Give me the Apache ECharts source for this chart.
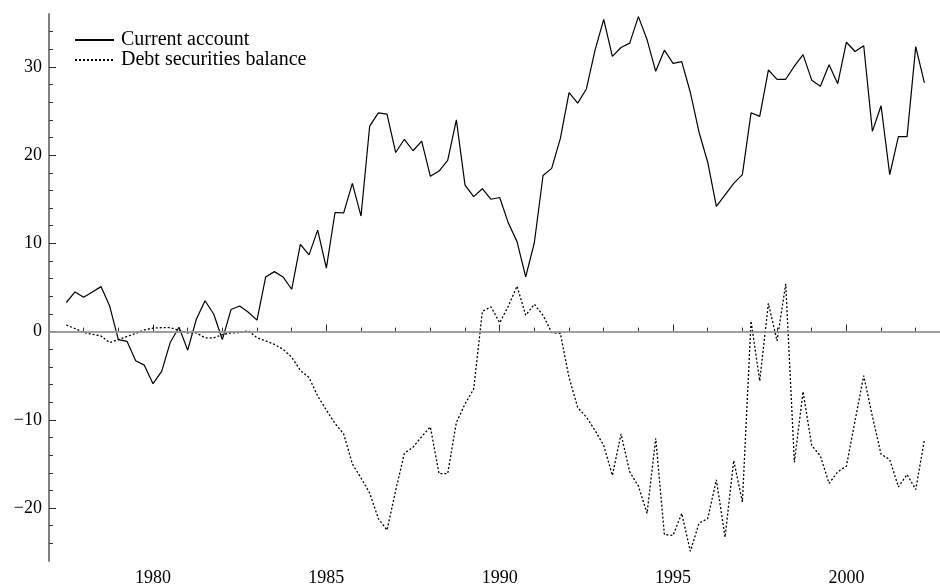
<!DOCTYPE html>
<html>
<head>
<meta charset="utf-8">
<script src="https://cdn.jsdelivr.net/npm/echarts@6/dist/echarts.min.js"></script>
<style>
  html, body { margin: 0; padding: 0; background: #fff; }
  #chart { width: 940px; height: 587px; }
</style>
</head>
<body>
<div id="chart"></div>
<script>
// quarterly data, first quarter plotted at 1977.5
const startYear = 1977.5;

const currentAccount = [
  3.3, 4.5, 3.9, 4.5, 5.1, 2.9, -0.9, -1.1, -3.3, -3.8,
  -5.9, -4.5, -1.2, 0.5, -2.1, 1.4, 3.5, 2.0, -0.9, 2.5,
  2.9, 2.2, 1.3, 6.2, 6.8, 6.2, 4.8, 9.9, 8.7, 11.5,
  7.2, 13.5, 13.45, 16.8, 13.1, 23.3, 24.8, 24.65, 20.3, 21.8,
  20.5, 21.6, 17.6, 18.2, 19.4, 24.0, 16.6, 15.3, 16.2, 15.0,
  15.2, 12.3, 10.2, 6.2, 10.1, 17.7, 18.5, 21.9, 27.1, 25.9,
  27.5, 31.9, 35.4, 31.2, 32.2, 32.7, 35.7, 33.1, 29.5, 31.9,
  30.4, 30.6, 27.1, 22.6, 19.2, 14.2, 15.5, 16.8, 17.8, 24.8,
  24.4, 29.65, 28.6, 28.6, 30.1, 31.4, 28.5, 27.8, 30.25, 28.1,
  32.8, 31.75, 32.4, 22.7, 25.6, 17.8, 22.1, 22.1, 32.3, 28.2
];

const debtSecurities = [
  0.75, 0.35, -0.1, -0.3, -0.5, -1.25, -0.9, -0.55, -0.2, 0.2,
  0.4, 0.45, 0.45, 0.15, -0.15, -0.15, -0.7, -0.7, -0.35, -0.15,
  -0.1, 0.1, -0.7, -1.05, -1.45, -2.0, -2.9, -4.4, -5.2, -7.3,
  -8.9, -10.4, -11.6, -15.0, -16.6, -18.3, -21.2, -22.5, -18.0, -13.8,
  -13.1, -11.9, -10.8, -16.1, -16.1, -10.3, -8.2, -6.5, 2.3, 2.8,
  1.0, 2.9, 5.15, 1.85, 3.1, 1.85, -0.1, -0.2, -5.2, -8.6,
  -9.7, -11.2, -12.9, -16.3, -11.6, -15.9, -17.5, -20.6, -12.1, -23.0,
  -23.1, -20.6, -24.9, -21.7, -21.2, -16.8, -23.3, -14.6, -19.3, 1.2,
  -5.6, 3.2, -1.05, 5.4, -14.8, -6.8, -12.9, -14.1, -17.2, -15.9,
  -15.25, -10.1, -5.0, -9.6, -13.9, -14.5, -17.6, -16.2, -17.9, -12.25
];

const xMajorTicks = [1980, 1985, 1990, 1995, 2000];
const xMinorTicks = [1978, 1979, 1980, 1981, 1982, 1983, 1984, 1985, 1986, 1987,
  1988, 1989, 1990, 1991, 1992, 1993, 1994, 1995, 1996, 1997, 1998, 1999, 2000, 2001, 2002];
const yMajorTicks = [-20, -10, 0, 10, 20, 30];
const yMinorTicks = [-24, -22, -20, -18, -16, -14, -12, -10, -8, -6, -4, -2, 0,
  2, 4, 6, 8, 10, 12, 14, 16, 18, 20, 22, 24, 26, 28, 30, 32, 34];

const font = "Liberation Serif";
const axisGrey = "#808080";

const toPairs = (arr) => arr.map((v, i) => [startYear + i * 0.25, v]);

const chart = echarts.init(document.getElementById("chart"));
chart.setOption({
  animation: false,
  backgroundColor: "#fff",
  grid: { left: 49, top: 14, right: 0, bottom: 22 },
  legend: {
    orient: "vertical",
    left: 74,
    top: 30,
    padding: 0,
    itemWidth: 39,
    itemHeight: 14,
    itemGap: 0,
    itemStyle: { opacity: 0 },
    textStyle: { fontFamily: font, fontSize: 20, lineHeight: 20, color: "#000", padding: [0, 0, 0, 2] },
    data: ["Current account", "Debt securities balance"]
  },
  xAxis: [
    {
      type: "value",
      min: 1977,
      max: 2002.7,
      axisLine: { lineStyle: { color: axisGrey, width: 2 } },
      axisTick: { inside: true, length: 7, customValues: xMajorTicks, lineStyle: { color: "#222" } },
      axisLabel: {
        customValues: xMajorTicks, fontFamily: font, fontSize: 18, color: "#000", margin: 8,
        formatter: (v) => String(v)
      },
      splitLine: { show: false }
    },
    {
      type: "value",
      min: 1977,
      max: 2002.7,
      position: "bottom",
      axisLine: { show: false },
      axisTick: { inside: true, length: 4, customValues: xMinorTicks, lineStyle: { color: "#333" } },
      axisLabel: { show: false },
      splitLine: { show: false }
    }
  ],
  yAxis: [
    {
      type: "value",
      min: -26,
      max: 36,
      axisLine: { show: true, lineStyle: { color: axisGrey, width: 2 } },
      axisTick: { show: true, inside: true, length: 7, customValues: yMajorTicks, lineStyle: { color: "#222" } },
      axisLabel: {
        customValues: yMajorTicks,
        fontFamily: font, fontSize: 18, color: "#000", margin: 7,
        formatter: (v) => (v < 0 ? "\u2212" + Math.abs(v) : String(v))
      },
      splitLine: { show: false }
    },
    {
      type: "value",
      min: -26,
      max: 36,
      position: "left",
      axisLine: { show: false },
      axisTick: { show: true, inside: true, length: 4, customValues: yMinorTicks, lineStyle: { color: "#333" } },
      axisLabel: { show: false },
      splitLine: { show: false }
    }
  ],
  series: [
    {
      name: "Current account",
      type: "line",
      symbol: "none",
      data: toPairs(currentAccount),
      lineStyle: { color: "#000", width: 1.2 },
      itemStyle: { color: "#000" },
      markLine: {
        silent: true,
        symbol: ["none", "none"],
        label: { show: false },
        lineStyle: { color: "#aaa", width: 1.5, type: "solid" },
        data: [{ yAxis: 0 }]
      },
      z: 3
    },
    {
      name: "Debt securities balance",
      type: "line",
      symbol: "none",
      data: toPairs(debtSecurities),
      lineStyle: { color: "#000", width: 1.3, type: [2, 2] },
      itemStyle: { color: "#000" },
      z: 3
    }
  ]
});
</script>
</body>
</html>
